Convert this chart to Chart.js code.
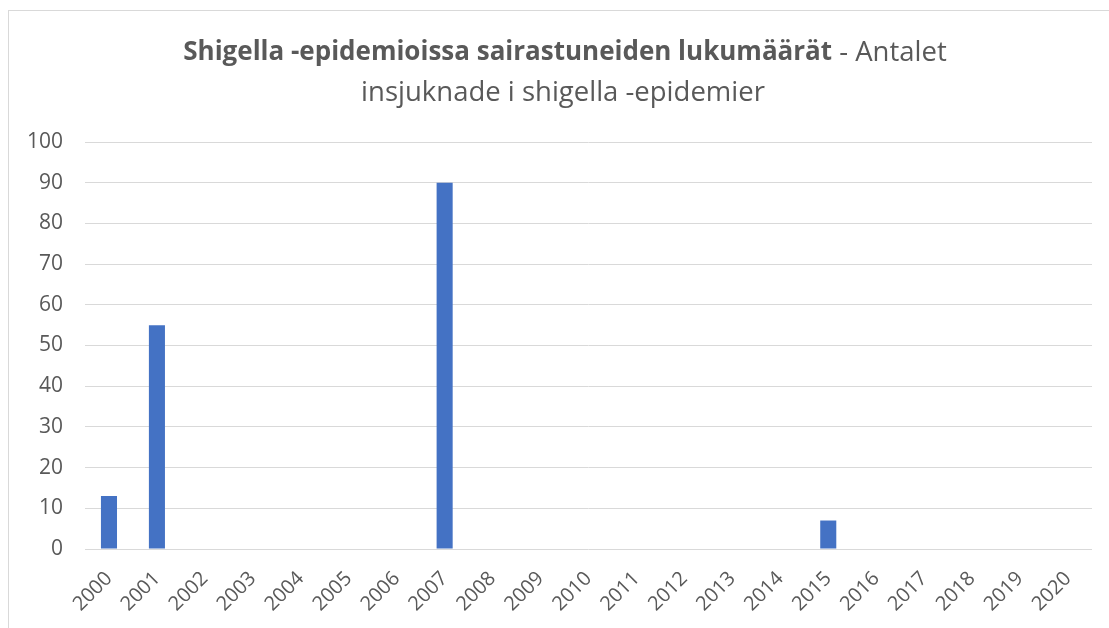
<!DOCTYPE html>
<html>
<head>
<meta charset="utf-8">
<script src="https://cdn.jsdelivr.net/npm/chart.js@4"></script>
<style>
  html, body { margin: 0; padding: 0; background: #fff; overflow: hidden; }
  #wrap { position: relative; width: 1109px; height: 628px; }
  #frame { position: absolute; left: 8px; top: 10px; width: 1120px; height: 640px; border: 1px solid #d9d9d9; box-sizing: border-box; }
  canvas { position: absolute; left: 0; top: 0; }
</style>
</head>
<body>
<div id="wrap">
  <div id="frame"></div>
  <canvas id="mycanvas" width="1109" height="628"></canvas>
</div>
<script>
var years = ['2000','2001','2002','2003','2004','2005','2006','2007','2008','2009','2010',
             '2011','2012','2013','2014','2015','2016','2017','2018','2019','2020'];
var cases = [13, 55, 0, 0, 0, 0, 0, 90, 0, 0, 0, 0, 0, 0, 0, 7, 0, 0, 0, 0, 0];
var yTicks = [0, 10, 20, 30, 40, 50, 60, 70, 80, 90, 100];

var titleBold = 'Shigella -epidemioissa sairastuneiden lukumäärät';
var titleRest = ' - Antalet';
var titleLine2 = 'insjuknade i shigella -epidemier';

var FONT = '"Open Sans", "Liberation Sans", sans-serif';

// title with a bold and a normal part on the first line
var titlePlugin = {
	id: 'mixedTitle',
	afterDraw: function(chart) {
		var ctx = chart.ctx;
		ctx.save();
		ctx.fillStyle = '#595959';
		ctx.textBaseline = 'middle';
		ctx.font = 'bold 26px ' + FONT;
		var w1 = ctx.measureText(titleBold).width;
		ctx.font = '27.5px ' + FONT;
		var w2 = ctx.measureText(titleRest).width;
		var x = 565 - (w1 + w2) / 2;
		ctx.textAlign = 'left';
		ctx.font = 'bold 26px ' + FONT;
		ctx.fillText(titleBold, x, 53);
		ctx.font = '27.5px ' + FONT;
		ctx.fillText(titleRest, x + w1, 53);
		ctx.textAlign = 'center';
		ctx.fillText(titleLine2, 563, 93);
		ctx.restore();
	}
};

var ctx = document.getElementById('mycanvas');

var barGraph = new Chart(ctx, {
	type: 'bar',
	data: {
		labels: years,
		datasets: [{
			label: 'Antal',
			backgroundColor: '#4472C4',
			borderWidth: 0,
			data: cases,
			barPercentage: 0.67,
			categoryPercentage: 0.5
		}]
	},
	options: {
		responsive: false,
		animation: false,
		layout: { padding: { top: 142, right: 17, left: 0, bottom: 0 } },
		plugins: { legend: { display: false }, tooltip: { enabled: false } },
		scales: {
			x: {
				grid: { display: false },
				border: { display: false },
				ticks: {
					color: '#595959',
					font: { family: FONT, size: 20 },
					maxRotation: 45, minRotation: 45,
					autoSkip: false,
					padding: 10
				},
				afterFit: function(scale) { scale.height = 79; }
			},
			y: {
				min: 0, max: 100,
				afterBuildTicks: function(scale) {
					scale.ticks = yTicks.map(function(v) { return { value: v }; });
				},
				grid: { color: '#d9d9d9', lineWidth: 1, drawTicks: false },
				border: { display: false },
				ticks: {
					color: '#595959',
					font: { family: FONT, size: 21 },
					padding: 22
				},
				afterFit: function(scale) { scale.width = 85; }
			}
		}
	},
	plugins: [titlePlugin]
});
</script>
</body>
</html>
